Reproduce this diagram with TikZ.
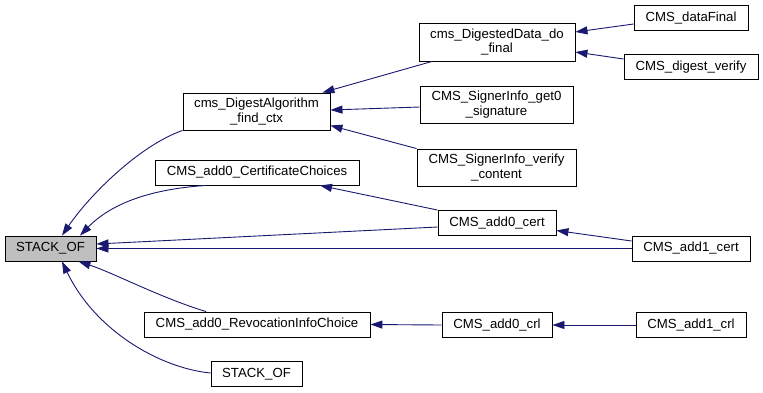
\documentclass[tikz,border=0pt]{standalone}
\usepackage{fontspec}
\setmainfont{Liberation Sans}
\usetikzlibrary{arrows.meta,calc}
\definecolor{edgeblue}{HTML}{191970}
\definecolor{focusgray}{HTML}{BFBFBF}
\begin{document}
\begin{tikzpicture}[x=1pt,y=-1pt,
  fn/.style={draw=black,line width=0.9pt,fill=white,inner sep=0pt,
    align=center,font=\fontsize{13.2}{14.5}\selectfont},
  focus/.style={fn,fill=focusgray},
  call/.style={draw=edgeblue,line width=0.9pt,
    -{Triangle[length=12pt,width=8pt]},shorten >=0pt}]
\useasboundingbox (0,0) rectangle (763,392);

% functions
\node[focus,minimum width=91pt,minimum height=25pt] (so) at (50.5,248.5) {STACK\_OF};
\node[fn,minimum width=147pt,minimum height=37pt] (fc) at (256.5,111.5) {cms\_DigestAlgorithm\\\_find\_ctx};
\node[fn,minimum width=204pt,minimum height=25pt] (cc) at (257,172.5) {CMS\_add0\_CertificateChoices};
\node[fn,minimum width=226pt,minimum height=25pt] (ri) at (257,324.5) {CMS\_add0\_RevocationInfoChoice};
\node[fn,minimum width=91pt,minimum height=25pt] (so2) at (256.5,374) {STACK\_OF};
\node[fn,minimum width=156pt,minimum height=38pt] (dd) at (497,42) {cms\_DigestedData\_do\\\_final};
\node[fn,minimum width=114pt,minimum height=25pt] (df) at (691,18) {CMS\_dataFinal};
\node[fn,minimum width=134pt,minimum height=25pt] (dv) at (691,67) {CMS\_digest\_verify};
\node[fn,minimum width=153pt,minimum height=37pt] (gs) at (496.5,104.5) {CMS\_SignerInfo\_get0\\\_signature};
\node[fn,minimum width=159pt,minimum height=37pt] (vc) at (496.5,167.5) {CMS\_SignerInfo\_verify\\\_content};
\node[fn,minimum width=118pt,minimum height=25pt] (ac) at (497,223) {CMS\_add0\_cert};
\node[fn,minimum width=118pt,minimum height=25pt] (a1c) at (691,248.5) {CMS\_add1\_cert};
\node[fn,minimum width=110pt,minimum height=25pt] (acrl) at (497,325) {CMS\_add0\_crl};
\node[fn,minimum width=110pt,minimum height=25pt] (a1crl) at (691,325) {CMS\_add1\_crl};

% calls into STACK_OF
\draw[call] (fc.south west) .. controls +(-43,15) and +(28,-41) .. ($(so.north)+(11.5,0)$);
\draw[call] ($(cc.south)+(-51,0)$) .. controls +(-46,3) and +(35,-36) .. ($(so.north)+(29.5,0)$);
\draw[call] ($(ac.west)+(0,4)$) -- ($(so.east)+(0,-4.5)$);
\draw[call] (a1c.west) -- (so.east);
\draw[call] ($(ri.north)+(-51,0)$) .. controls +(-46,-14) and +(34,11) .. ($(so.south)+(28,0)$);
\draw[call] ($(so2.west)+(0,-1)$) .. controls +(-51,-5) and +(33,69) .. ($(so.south)+(11.5,0)$);

% calls into cms_DigestAlgorithm_find_ctx
\draw[call] ($(dd.south)+(-65,0)$) -- ($(fc.north east)+(-8,0)$);
\draw[call] ($(gs.west)+(0,2.5)$) -- ($(fc.east)+(0,-1.5)$);
\draw[call] (vc.north west) -- ($(fc.east)+(0,14)$);

% calls into cms_DigestedData_do_final
\draw[call] ($(df.west)+(0,6)$) -- ($(dd.east)+(0,-10)$);
\draw[call] ($(dv.west)+(0,-8)$) -- ($(dd.east)+(0,10)$);

% remaining calls
\draw[call] (ac.north west) -- ($(cc.south)+(63,0)$);
\draw[call] ($(a1c.west)+(0,-7.5)$) -- ($(ac.east)+(0,7.5)$);
\draw[call] (acrl.west) -- (ri.east);
\draw[call] (a1crl.west) -- (acrl.east);
\end{tikzpicture}
\end{document}
